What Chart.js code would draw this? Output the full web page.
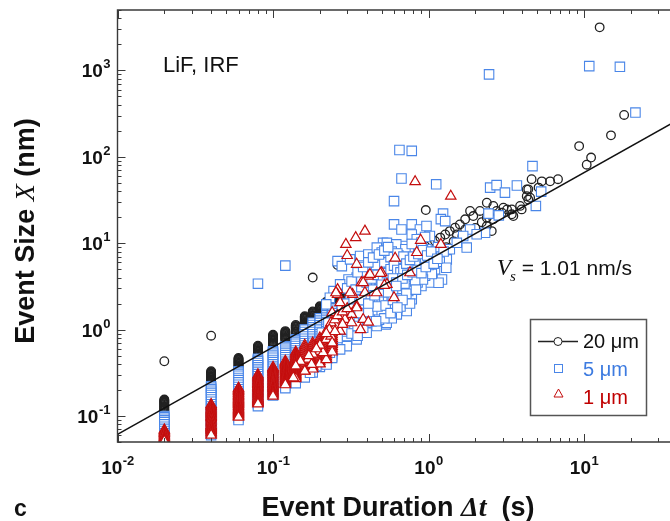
<!DOCTYPE html>
<html><head><meta charset="utf-8">
<script src="https://cdn.jsdelivr.net/npm/chart.js@4.4.0/dist/chart.umd.min.js"></script>
<style>html,body{margin:0;padding:0;background:#fff;overflow:hidden}canvas{display:block}</style>
</head><body>
<canvas id="c" width="670" height="521"></canvas>
<script>
// ---- axis ticks ----
const xTickValues = [0.01, 0.1, 1, 10];
const xTickExponents = ['-2', '-1', '0', '1'];
const yTickValues = [0.1, 1, 10, 100, 1000];
const yTickExponents = ['-1', '0', '1', '2', '3'];

// ---- fit line (V_s = 1.01 nm/s) ----
const fitT = [0.01, 100];
const fitX = [0.0612, 671];

// ---- 20 um (circles): dense columns at discrete durations ----
const circleColumnT = [0.02, 0.04, 0.06, 0.08, 0.10, 0.12, 0.14, 0.16, 0.18, 0.20, 0.22, 0.24, 0.26, 0.28, 0.30];
const circleColumnX = [
  [0.155, 0.152, 0.149, 0.146, 0.143, 0.140, 0.137, 0.134, 0.131, 0.128, 0.125, 0.122, 0.119, 0.117, 0.115],
  [0.33, 0.323, 0.316, 0.309, 0.302, 0.296, 0.29, 0.284, 0.278, 0.272, 0.266, 0.26, 0.255, 0.25, 0.245, 0.24],
  [0.47, 0.46, 0.45, 0.44, 0.431, 0.422, 0.413, 0.404, 0.395, 0.387, 0.379, 0.371, 0.364, 0.36],
  [0.65, 0.636, 0.622, 0.608, 0.595, 0.582, 0.569, 0.557, 0.545, 0.533, 0.522, 0.511, 0.5],
  [0.87, 0.851, 0.832, 0.814, 0.796, 0.779, 0.762, 0.745, 0.729, 0.713, 0.697, 0.682, 0.667, 0.65],
  [0.96, 0.94, 0.92, 0.9, 0.88, 0.86, 0.842, 0.824, 0.806, 0.788, 0.771, 0.755],
  [1.13, 1.105, 1.08, 1.057, 1.034, 1.011, 0.989, 0.967, 0.946, 0.925, 0.905, 0.885],
  [1.43, 1.4, 1.37, 1.34, 1.31, 1.28, 1.25, 1.225, 1.2, 1.175, 1.15, 1.125, 1.1, 1.075, 1.05],
  [1.62, 1.585, 1.55, 1.515, 1.48, 1.45, 1.42, 1.39, 1.36, 1.33, 1.3, 1.27, 1.245, 1.22, 1.2],
  [1.86, 1.82, 1.78, 1.74, 1.7, 1.665, 1.63, 1.595, 1.56, 1.525, 1.49, 1.455, 1.42],
  [2.1, 2.055, 2.01, 1.965, 1.92, 1.88, 1.84, 1.8, 1.76, 1.72, 1.68, 1.64, 1.6, 1.57, 1.55],
  [2.35, 2.3, 2.25, 2.2, 2.15, 2.1, 2.055, 2.01, 1.965, 1.92, 1.88, 1.84, 1.8, 1.77, 1.75],
  [2.5, 2.44, 2.38, 2.32, 2.26, 2.2, 2.14, 2.08, 2.02],
  [2.6, 2.54, 2.48, 2.42, 2.36, 2.3, 2.24, 2.2],
  [2.7, 2.64, 2.58, 2.52, 2.46, 2.4, 2.34, 2.28, 2.22]
];
// ---- 20 um (circles): scattered events ----
const circleT = [0.02, 0.04, 0.18, 0.26, 0.34, 0.34, 0.40, 0.40, 0.46, 0.46, 0.52, 0.52, 0.60, 0.60, 0.70, 0.70, 0.80, 0.80,
  0.88, 0.95, 1.02, 1.1, 1.19, 1.28, 1.37, 1.48, 1.59, 1.72, 1.94, 2.14, 1.52, 1.72, 1.85, 2.74, 2.37, 0.96,
  2.37, 2.61, 3.03, 3.43, 3.88, 4.28, 4.38, 4.28, 6.8, 6.05, 5.35, 4.6, 4.38, 5.1, 4.5, 3.43, 2.96, 2.61, 2.37, 2.55,
  3.97, 3.51, 3.2, 1.3, 1.45, 1.65, 2.0, 2.2, 1.15, 9.3, 11.1, 10.4, 14.9, 18.1, 12.6];
const circleX = [0.43, 0.85, 4.0, 5.6, 2.9, 2.5, 3.2, 2.8, 3.6, 3.2, 4.1, 3.6, 4.7, 4.2, 5.4, 4.8, 6.4, 5.6,
  8.5, 9.25, 10.1, 10.6, 11.6, 12.6, 13.8, 15.1, 16.5, 18.9, 20.6, 23.6, 12.6, 14.4, 23.6, 23.6, 19.7, 24.2,
  29.4, 27, 25.7, 24.6, 27, 35, 32, 41.8, 55, 52, 52, 55, 42, 44, 33.6, 21.6, 22.5, 18.9, 15.8, 13.8,
  24.6, 20.6, 24.6, 9.0, 10.5, 12.0, 15.0, 17.5, 8.6, 133, 98, 81, 177, 305, 3150];

// ---- 5 um (squares): dense columns ----
const squareColumnT = [0.02, 0.04, 0.06, 0.08, 0.10, 0.12, 0.14, 0.16, 0.18, 0.20, 0.22, 0.24];
const squareColumnX = [
  [0.100, 0.097, 0.093, 0.089, 0.085, 0.080, 0.075, 0.071, 0.067, 0.063, 0.059, 0.056],
  [0.22, 0.212, 0.204, 0.196, 0.185, 0.175, 0.165, 0.155, 0.146, 0.137, 0.129, 0.121, 0.114, 0.107, 0.100, 0.094, 0.088, 0.082, 0.077, 0.072, 0.067, 0.063, 0.060],
  [0.33, 0.318, 0.306, 0.292, 0.275, 0.26, 0.245, 0.23, 0.217, 0.204, 0.192, 0.18, 0.17, 0.16, 0.15, 0.141, 0.132, 0.124, 0.116, 0.109, 0.102, 0.096, 0.090],
  [0.46, 0.445, 0.43, 0.41, 0.387, 0.365, 0.344, 0.324, 0.305, 0.288, 0.271, 0.255, 0.24, 0.226, 0.213, 0.2, 0.188, 0.177, 0.166, 0.156, 0.147, 0.138, 0.13],
  [0.56, 0.543, 0.526, 0.5, 0.472, 0.445, 0.42, 0.396, 0.373, 0.352, 0.332, 0.313, 0.295, 0.278, 0.262, 0.247, 0.233, 0.22, 0.207, 0.195, 0.184, 0.173],
  [0.64, 0.62, 0.6, 0.57, 0.538, 0.507, 0.478, 0.451, 0.425, 0.401, 0.378, 0.356, 0.336, 0.317, 0.299, 0.282, 0.266, 0.251, 0.237, 0.223, 0.21],
  [0.77, 0.745, 0.72, 0.685, 0.646, 0.609, 0.574, 0.541, 0.51, 0.481, 0.454, 0.428, 0.404, 0.381, 0.359, 0.339, 0.32, 0.302, 0.285, 0.269, 0.254, 0.24],
  [1.0, 0.94, 0.885, 0.833, 0.784, 0.738, 0.695, 0.654, 0.616, 0.58, 0.546, 0.514, 0.484, 0.456, 0.429, 0.404, 0.38, 0.358, 0.337, 0.317, 0.298, 0.28],
  [1.2, 1.13, 1.06, 1.0, 0.94, 0.885, 0.833, 0.784, 0.738, 0.695, 0.654, 0.616, 0.58, 0.546, 0.514, 0.484, 0.456, 0.429, 0.404, 0.38, 0.358, 0.337, 0.32],
  [1.35, 1.27, 1.195, 1.125, 1.06, 1.0, 0.94, 0.885, 0.833, 0.784, 0.738, 0.695, 0.654, 0.616, 0.58, 0.546, 0.514, 0.484, 0.456, 0.429, 0.404, 0.38, 0.37],
  [1.55, 1.46, 1.375, 1.295, 1.22, 1.15, 1.08, 1.02, 0.96, 0.9, 0.85, 0.8, 0.75, 0.71, 0.67, 0.63, 0.59, 0.555, 0.522, 0.49, 0.46, 0.433, 0.41],
  [1.75, 1.65, 1.55, 1.46, 1.375, 1.295, 1.22, 1.15, 1.08, 1.02, 0.96, 0.9, 0.85, 0.8, 0.75, 0.71, 0.67, 0.63, 0.59, 0.555, 0.522, 0.49, 0.47]
];
// ---- 5 um (squares): scattered events ----
const squareT = [0.08, 0.12, 0.26, 2.45, 10.8, 17.0, 21.4, 0.65, 0.78, 0.67, 1.12, 0.6, 4.66, 2.49, 2.74, 3.1, 3.7, 5.3, 4.9,
  1.24, 1.2, 1.28, 2.43, 2.83, 2.31, 1.85, 2.04, 1.67, 1.37, 1.76, 0.6, 0.78, 0.88, 0.67, 0.78, 0.97,
  0.51, 0.54, 0.61, 0.71, 0.84, 0.97, 1.1, 1.31, 1.02, 0.88, 0.78, 0.67, 0.6, 0.53, 0.62, 0.74, 0.88, 1.1, 1.22, 1.02,
  0.84, 0.71, 0.6, 0.53, 0.65, 0.78, 0.53, 0.6, 0.69, 0.78, 0.9, 1.16, 1.52,
  0.277, 0.313, 0.363, 0.41, 0.465, 0.54, 0.62, 0.71, 0.72, 0.565, 0.5, 0.44, 0.39, 0.345, 0.306, 0.27, 0.245, 0.232, 0.22,
  0.313, 0.363, 0.42, 0.488, 0.566, 0.656, 0.724, 0.625, 0.538, 0.464, 0.40, 0.345, 0.298, 0.27, 0.244, 0.221, 0.21, 0.244,
  0.27, 0.298, 0.345, 0.40, 0.464, 0.538, 0.625, 0.706, 0.724, 0.625, 0.538, 0.464, 0.40, 0.345, 0.298, 0.27, 0.232, 0.2,
  0.221, 0.19, 0.173, 0.196, 0.182, 0.206, 0.227, 0.25, 0.277,
  0.3, 0.33, 0.36, 0.38, 0.42, 0.45, 0.48, 0.5, 0.52, 0.55, 0.58, 0.6, 0.44, 0.47, 0.5, 0.56, 0.36, 0.39, 0.42, 0.31, 0.33,
  0.28, 0.26, 0.29, 0.32, 0.35, 0.38, 0.43, 0.48, 0.58, 0.66, 0.68, 0.74, 0.8, 0.85, 0.95, 1.05, 0.92, 0.82, 0.7, 0.55,
  0.48, 0.42, 0.37, 0.95, 1.05, 0.82, 0.75, 0.66, 0.58, 0.46, 0.5, 0.56, 0.62, 0.45, 0.5, 0.58, 0.64, 0.78, 0.9, 0.95,
  1.15, 1.25, 1.0, 1.18, 1.3,
  0.3, 0.34, 0.37, 0.4, 0.43, 0.46, 0.52, 0.57, 0.63, 0.69, 0.33, 0.36, 0.41, 0.47, 0.53, 0.59, 0.67, 0.28, 0.31, 0.35,
  0.32, 0.35, 0.38, 0.41, 0.44, 0.48, 0.52, 0.55, 0.34, 0.37, 0.40, 0.43, 0.47, 0.51, 0.54, 0.57, 0.6, 0.63, 0.66, 0.69,
  0.72, 0.76, 0.8, 0.86, 0.92, 0.98, 1.04, 0.56, 0.59, 0.62, 0.68, 0.73, 0.79, 0.85, 0.9, 0.96, 1.08, 1.14, 0.44, 0.5,
  0.41, 0.45, 0.55, 0.62, 0.72, 0.76, 0.83, 0.68, 0.52, 0.46, 0.57, 0.63];
const squareX = [3.4, 5.5, 6.2, 900, 1120, 1100, 325, 120, 117, 56, 48, 30.7, 78, 44, 47, 38.5, 46.5, 39.5, 27,
  22, 19, 18, 22, 21, 13.2, 14.4, 12.7, 12.1, 8.5, 8.9, 16.5, 16.5, 14.4, 14.4, 12.6, 15.8,
  10.1, 7.4, 8.5, 9.3, 11.1, 8.5, 7.4, 6.5, 12.1, 9.3, 7.8, 6.8, 5.95, 5.0, 4.55, 4.76, 5.4, 5.0, 3.8, 3.5,
  4.16, 3.8, 3.19, 2.67, 2.44, 2.24, 1.15, 1.64, 1.68, 2.56, 3.19, 3.49, 10.1,
  5.43, 6.5, 7.1, 7.4, 8.9, 10.1, 9.7, 8.5, 6.5, 6.2, 5.4, 5.0, 4.35, 4.0, 3.8, 3.34, 2.79, 2.34, 1.96,
  2.44, 2.67, 3.19, 3.81, 3.81, 4.16, 3.19, 2.92, 2.55, 2.24, 1.87, 1.57, 1.31, 1.1, 0.92, 0.77, 0.644, 0.59,
  0.705, 0.84, 1.0, 1.2, 1.43, 1.71, 2.05, 2.24, 1.64, 1.5, 1.2, 1.1, 0.92, 0.77, 0.644, 0.59, 0.54, 0.49,
  0.395, 0.378, 0.317, 0.59, 0.705, 0.92, 1.2, 1.43, 1.71,
  2.0, 2.2, 2.0, 1.7, 1.9, 2.0, 1.8, 2.0, 2.3, 2.1, 2.4, 2.7, 1.55, 1.65, 1.5, 1.9, 1.35, 1.45, 1.3, 1.15, 1.3,
  0.95, 0.8, 1.0, 0.9, 0.85, 1.05, 1.25, 1.3, 1.35, 1.85, 2.6, 2.8, 3.0, 3.5, 4.2, 4.4, 3.8, 3.6, 3.4, 3.0,
  2.7, 2.4, 2.2, 6.2, 6.8, 6.0, 5.6, 5.2, 4.3, 4.0, 4.8, 5.5, 6.6, 6.2, 7.8, 8.0, 7.2, 9.8, 10.2, 11.8,
  9.0, 8.0, 5.6, 6.1, 5.2,
  3.0, 3.3, 3.7, 4.4, 4.7, 5.6, 6.0, 6.9, 7.6, 7.0, 1.75, 1.55, 1.6, 1.85, 1.9, 2.2, 2.3, 1.3, 1.25, 1.1,
  3.6, 4.6, 5.3, 6.0, 6.8, 7.4, 8.2, 9.0, 2.9, 3.1, 3.5, 3.9, 4.3, 4.0, 4.5, 5.0, 5.5, 4.9, 4.6, 5.0,
  5.8, 6.4, 7.0, 7.5, 8.3, 7.2, 8.0, 3.4, 3.9, 3.5, 3.9, 4.3, 4.6, 4.9, 4.5, 5.3, 5.8, 6.6, 2.9, 3.3,
  2.0, 2.5, 2.7, 3.2, 2.6, 2.0, 2.9, 2.2, 1.35, 1.25, 1.55, 1.8];

// ---- 1 um (triangles): dense columns ----
const triangleColumnT = [0.02, 0.04, 0.06, 0.08, 0.10, 0.12, 0.14, 0.16, 0.18, 0.20, 0.22, 0.24];
const triangleColumnX = [
  [0.069, 0.067, 0.065, 0.063, 0.061, 0.059, 0.057, 0.0555, 0.054, 0.0525, 0.051],
  [0.136, 0.132, 0.128, 0.124, 0.12, 0.117, 0.114, 0.111, 0.108, 0.105, 0.102, 0.099, 0.096, 0.093, 0.09, 0.087, 0.084, 0.081, 0.078, 0.076, 0.074, 0.072, 0.07, 0.068, 0.066, 0.064, 0.062, 0.06],
  [0.21, 0.204, 0.198, 0.192, 0.186, 0.181, 0.176, 0.171, 0.166, 0.161, 0.156, 0.152, 0.148, 0.144, 0.14, 0.136, 0.132, 0.128, 0.124, 0.12, 0.117, 0.114, 0.111, 0.108, 0.105, 0.102, 0.099, 0.097],
  [0.3, 0.292, 0.284, 0.276, 0.268, 0.26, 0.253, 0.246, 0.239, 0.232, 0.225, 0.219, 0.213, 0.207, 0.201, 0.195, 0.19, 0.185, 0.18, 0.175, 0.17, 0.165, 0.16, 0.156, 0.152, 0.148, 0.144, 0.141, 0.138],
  [0.365, 0.355, 0.345, 0.335, 0.326, 0.317, 0.308, 0.3, 0.292, 0.284, 0.276, 0.268, 0.26, 0.253, 0.246, 0.239, 0.232, 0.225, 0.219, 0.213, 0.207, 0.201, 0.195, 0.19, 0.185, 0.18, 0.175, 0.17],
  [0.43, 0.418, 0.406, 0.395, 0.384, 0.373, 0.363, 0.353, 0.343, 0.334, 0.325, 0.316, 0.307, 0.299, 0.291, 0.283, 0.275, 0.267, 0.26, 0.253, 0.246, 0.239, 0.232],
  [0.55, 0.535, 0.52, 0.505, 0.49, 0.476, 0.462, 0.449, 0.436, 0.424, 0.412, 0.4, 0.389, 0.378, 0.367, 0.357, 0.347, 0.337, 0.328, 0.319, 0.31, 0.301, 0.293, 0.285, 0.277, 0.27],
  [0.66, 0.627, 0.596, 0.566, 0.537, 0.51, 0.485, 0.46, 0.437, 0.415, 0.394, 0.374, 0.355, 0.337, 0.33],
  [0.70, 0.665, 0.632, 0.6, 0.57, 0.541, 0.514, 0.488, 0.464, 0.44, 0.418, 0.397, 0.377, 0.358, 0.35],
  [0.80, 0.76, 0.72, 0.685, 0.65, 0.618, 0.587, 0.558, 0.53, 0.503, 0.478, 0.454, 0.431, 0.41, 0.40],
  [0.95, 0.9, 0.855, 0.81, 0.77, 0.73, 0.695, 0.66, 0.627, 0.596, 0.566, 0.537, 0.51, 0.485, 0.46, 0.45],
  [1.2, 1.14, 1.08, 1.02, 0.97, 0.92, 0.875, 0.83, 0.79, 0.75, 0.71, 0.675, 0.64, 0.61, 0.58, 0.55]
];
// ---- 1 um (triangles): scattered events ----
const triangleT = [0.82, 1.39, 0.89, 1.2, 0.61, 0.84, 0.76, 0.54, 0.6, 0.5,
  0.294, 0.30, 0.34, 0.39, 0.345, 0.26, 0.26, 0.325, 0.37, 0.41, 0.49, 0.52, 0.39, 0.38, 0.42, 0.313, 0.254, 0.27, 0.285, 0.345, 0.38, 0.464,
  0.345, 0.32, 0.29, 0.24, 0.254, 0.32, 0.365, 0.41, 0.22, 0.236, 0.2, 0.18, 0.168, 0.21, 0.177, 0.16, 0.15, 0.14, 0.12, 0.135, 0.27, 0.236,
  0.25, 0.26, 0.28, 0.3, 0.23, 0.25, 0.28, 0.22, 0.24, 0.2, 0.19, 0.17];
const triangleX = [51.5, 35, 10.8, 9.7, 6.7, 7.8, 4.55, 3.34, 2.34, 4.55,
  9.7, 7.2, 11.6, 13.8, 5.7, 2.9, 2.55, 2.55, 3.5, 4.15, 4.47, 3.25, 2.67, 3.49, 4.35, 2.67, 2.67, 2.05, 1.43, 1.87, 1.31, 2.67,
  1.79, 1.5, 1.31, 1.57, 1.1, 1.2, 1.0, 1.22, 0.77, 0.84, 0.56, 0.52, 0.455, 0.54, 0.395, 0.33, 0.43, 0.38, 0.23, 0.277, 0.96, 1.2,
  1.3, 1.45, 1.6, 1.75, 1.0, 0.95, 1.15, 0.9, 0.7, 0.66, 0.6, 0.5];

// ---- helpers ----
function columnsToPoints(ts, cols) {
  const pts = [];
  ts.forEach((t, i) => cols[i].forEach(v => pts.push({ x: t, y: v })));
  return pts;
}
function pairs(ts, xs) { return ts.map((t, i) => ({ x: t, y: xs[i] })); }

const RED = '#c40e0e';
const BLUE = '#4a86e8';
const DARK = '#222222';
const SANS = '"Liberation Sans", Arial, sans-serif';
const SERIF = '"Liberation Serif", "Times New Roman", serif';

const X_MIN = 0.01, X_MAX = 35.7, Y_MIN = 0.05, Y_MAX = 5000;

const decorPlugin = {
  id: 'decor',
  afterDraw(chart) {
    const ctx = chart.ctx;
    const xs = chart.scales.x, ys = chart.scales.y;
    const a = chart.chartArea;
    ctx.save();
    // frame
    ctx.strokeStyle = '#3a3a3a';
    ctx.lineWidth = 1.4;
    ctx.beginPath();
    ctx.moveTo(a.right + 2, a.top); ctx.lineTo(a.left, a.top); ctx.lineTo(a.left, a.bottom); ctx.lineTo(a.right + 2, a.bottom);
    ctx.stroke();
    // ticks (inward)
    ctx.lineWidth = 1;
    ctx.beginPath();
    for (let k = -2; k <= 2; k++) {
      for (let m = 1; m <= 9; m++) {
        const v = m * Math.pow(10, k);
        if (v < X_MIN * 0.999 || v > X_MAX) continue;
        const px = Math.round(xs.getPixelForValue(v)) + 0.5;
        const len = m === 1 ? 8 : 4;
        ctx.moveTo(px, a.bottom); ctx.lineTo(px, a.bottom - len);
        ctx.moveTo(px, a.top); ctx.lineTo(px, a.top + len);
      }
    }
    for (let k = -2; k <= 3; k++) {
      for (let m = 1; m <= 9; m++) {
        const v = m * Math.pow(10, k);
        if (v < Y_MIN * 0.999 || v > Y_MAX * 1.001) continue;
        const py = Math.round(ys.getPixelForValue(v)) + 0.5;
        const len = m === 1 ? 8 : 4;
        ctx.moveTo(a.left, py); ctx.lineTo(a.left + len, py);
      }
    }
    ctx.stroke();

    // tick labels with superscripts
    ctx.fillStyle = '#111';
    ctx.textBaseline = 'alphabetic';
    ctx.textAlign = 'left';
    const baseFont = 'bold 19px ' + SANS;
    const expFont = 'bold 13px ' + SANS;
    xTickValues.forEach((v, i) => {
      const px = xs.getPixelForValue(v);
      ctx.font = baseFont; const w1 = ctx.measureText('10').width;
      ctx.font = expFont; const w2 = ctx.measureText(xTickExponents[i]).width;
      const sx = px - (w1 + w2) / 2;
      ctx.font = baseFont; ctx.fillText('10', sx, 474);
      ctx.font = expFont; ctx.fillText(xTickExponents[i], sx + w1 + 0.5, 465);
    });
    yTickValues.forEach((v, i) => {
      const py = ys.getPixelForValue(v);
      ctx.font = baseFont; const w1 = ctx.measureText('10').width;
      ctx.font = expFont; const w2 = ctx.measureText(yTickExponents[i]).width;
      const sx = 110 - (w1 + w2);
      ctx.font = baseFont; ctx.fillText('10', sx, py + 7);
      ctx.font = expFont; ctx.fillText(yTickExponents[i], sx + w1 + 0.5, py - 2);
    });

    // x-axis title
    const tf = 'bold 27px ' + SANS;
    const tfi = 'italic bold 28px ' + SERIF;
    const xParts = [['Event Duration ', tf], ['\u0394t', tfi], ['  (s)', tf]];
    let tot = 0;
    xParts.forEach(p => { ctx.font = p[1]; tot += ctx.measureText(p[0]).width; });
    let cx = 398 - tot / 2;
    xParts.forEach(p => { ctx.font = p[1]; ctx.fillText(p[0], cx, 516); cx += ctx.measureText(p[0]).width; });

    // y-axis title (rotated)
    const yParts = [['Event Size ', tf], ['X', 'italic 28px ' + SERIF], [' (nm)', tf]];
    tot = 0;
    yParts.forEach(p => { ctx.font = p[1]; tot += ctx.measureText(p[0]).width; });
    ctx.save();
    ctx.translate(34, 231);
    ctx.rotate(-Math.PI / 2);
    let cy = -tot / 2;
    yParts.forEach(p => { ctx.font = p[1]; ctx.fillText(p[0], cy, 0); cy += ctx.measureText(p[0]).width; });
    ctx.restore();

    // panel letter
    ctx.font = 'bold 23px ' + SANS;
    ctx.fillText('c', 14, 516);

    // annotations
    ctx.font = '22px ' + SANS;
    ctx.fillStyle = '#111';
    ctx.fillText('LiF, IRF', 163, 72);
    ctx.font = 'italic 23px ' + SERIF;
    ctx.fillText('V', 497, 275);
    let vw = ctx.measureText('V').width;
    ctx.font = 'italic 15px ' + SERIF;
    ctx.fillText('s', 497 + vw - 1, 281);
    vw += ctx.measureText('s').width - 1;
    ctx.font = '21px ' + SANS;
    ctx.fillText(' = 1.01 nm/s', 497 + vw, 275);

    // legend
    ctx.fillStyle = '#fff';
    ctx.fillRect(530.5, 319.5, 116, 96);
    ctx.strokeStyle = '#555';
    ctx.lineWidth = 1.5;
    ctx.strokeRect(530.5, 319.5, 116, 96);
    ctx.strokeStyle = DARK; ctx.lineWidth = 1.3;
    ctx.beginPath(); ctx.moveTo(538, 341.5); ctx.lineTo(578, 341.5); ctx.stroke();
    ctx.fillStyle = '#fff'; ctx.lineWidth = 1;
    ctx.beginPath(); ctx.arc(558, 341.5, 4, 0, Math.PI * 2); ctx.fill(); ctx.stroke();
    ctx.strokeStyle = BLUE;
    ctx.strokeRect(554.5, 364.5, 8, 8);
    ctx.strokeStyle = RED;
    ctx.beginPath(); ctx.moveTo(558.5, 389); ctx.lineTo(563, 397); ctx.lineTo(554, 397); ctx.closePath(); ctx.stroke();
    ctx.font = '20px ' + SANS;
    ctx.fillStyle = '#111'; ctx.fillText('20 \u03bcm', 583, 348);
    ctx.fillStyle = '#3d7be0'; ctx.fillText('5 \u03bcm', 583, 376);
    ctx.fillStyle = '#c00000'; ctx.fillText('1 \u03bcm', 583, 404);
    ctx.restore();
  }
};

new Chart(document.getElementById('c'), {
  type: 'scatter',
  data: {
    datasets: [
      { label: 'fit', data: pairs(fitT, fitX), showLine: true, borderColor: '#111', borderWidth: 1.5, pointRadius: 0, order: 0, clip: 0 },
      { label: '1 \u03bcm', data: columnsToPoints(triangleColumnT, triangleColumnX).concat(pairs(triangleT, triangleX)),
        pointStyle: 'triangle', pointRadius: 6, borderColor: RED, backgroundColor: '#fff', borderWidth: 1.2, order: 1, clip: 0 },
      { label: '5 \u03bcm', data: columnsToPoints(squareColumnT, squareColumnX).concat(pairs(squareT, squareX)),
        pointStyle: 'rect', pointRadius: 6.7, borderColor: BLUE, backgroundColor: '#fff', borderWidth: 1.1, order: 2, clip: 0 },
      { label: '20 \u03bcm', data: columnsToPoints(circleColumnT, circleColumnX).concat(pairs(circleT, circleX)),
        pointStyle: 'circle', pointRadius: 4.3, borderColor: DARK, backgroundColor: 'rgba(255,255,255,0)', borderWidth: 1.3, order: 3, clip: 0 }
    ]
  },
  options: {
    responsive: false,
    animation: false,
    devicePixelRatio: 1,
    events: [],
    layout: { autoPadding: false, padding: { left: 117.5, right: 0, top: 10, bottom: 79 } },
    plugins: { legend: { display: false }, tooltip: { enabled: false } },
    scales: {
      x: { type: 'logarithmic', min: X_MIN, max: X_MAX, display: false },
      y: { type: 'logarithmic', min: Y_MIN, max: Y_MAX, display: false }
    }
  },
  plugins: [decorPlugin]
});
</script>
</body></html>
